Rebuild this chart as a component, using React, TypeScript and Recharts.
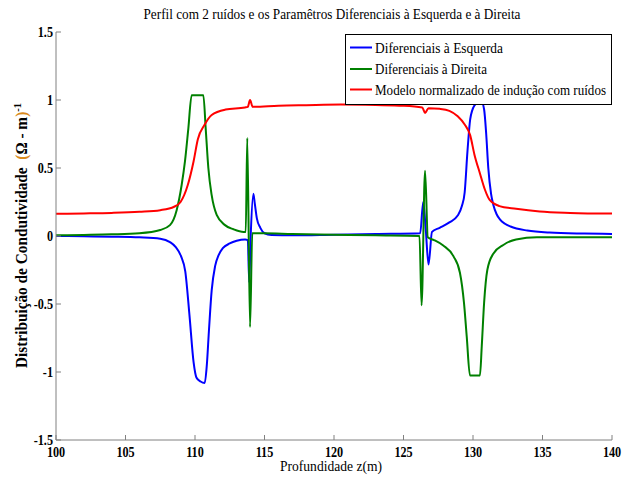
import React from 'react'
import { LineChart, Line, XAxis, YAxis, Legend } from 'recharts'

// depth (m) and values
const blueX = [100, 102, 104, 106, 107.5, 108.2, 108.6, 109.0, 109.3, 109.6, 109.9, 110.1, 110.4, 110.7, 110.85, 111.0, 111.2, 111.45, 111.7, 112.0, 112.5, 113.0, 113.6, 113.8, 113.9, 114.0, 114.2, 114.3, 114.45, 114.7, 115.0, 115.5, 117, 120, 123, 126.2, 126.42, 126.6, 126.8, 127.05, 127.6, 128.3, 128.9, 129.2, 129.4, 129.6, 129.8, 130.1, 130.4, 130.6, 130.8, 130.95, 131.1, 131.3, 131.46, 131.7, 131.95, 132.3, 132.7, 133.9, 135.5, 138, 140]
const blueY = [0, -0.002, -0.005, -0.01, -0.02, -0.045, -0.08, -0.15, -0.26, -0.58, -0.93, -1.04, -1.07, -1.08, -0.95, -0.7, -0.4, -0.22, -0.14, -0.09, -0.055, -0.035, -0.025, -0.03, -0.34, -0.02, 0.31, 0.24, 0.13, 0.06, 0.02, 0.008, 0.005, 0.01, 0.015, 0.02, 0.25, 0.05, -0.21, 0.03, 0.06, 0.1, 0.15, 0.22, 0.32, 0.62, 0.86, 0.96, 0.985, 0.99, 0.93, 0.75, 0.5, 0.31, 0.23, 0.16, 0.12, 0.09, 0.07, 0.04, 0.025, 0.018, 0.015]

const greenX = [100, 102, 104, 106, 107.5, 108.2, 108.68, 109.04, 109.28, 109.52, 109.76, 110.6, 110.77, 110.96, 111.2, 111.56, 112.16, 112.76, 113.5, 113.65, 113.76, 113.96, 114.12, 115, 117, 120, 123, 126.15, 126.3, 126.55, 126.75, 127.2, 127.86, 128.6, 129.06, 129.35, 129.55, 129.78, 130.5, 130.63, 130.8, 131.03, 131.46, 132.18, 133.1, 134.6, 137, 140]
const greenY = [0.005, 0.008, 0.012, 0.02, 0.044, 0.08, 0.19, 0.375, 0.55, 0.79, 1.035, 1.035, 0.79, 0.5, 0.3, 0.155, 0.08, 0.05, 0.03, 0.03, 0.72, -0.67, 0.02, 0.02, 0.015, 0.01, 0.005, 0, -0.51, 0.48, -0.01, -0.03, -0.07, -0.15, -0.27, -0.49, -0.74, -1.025, -1.025, -0.81, -0.49, -0.25, -0.13, -0.066, -0.025, -0.01, -0.01, -0.01]

const redX = [100, 102, 104, 106, 107.5, 108.5, 108.96, 109.48, 109.9, 110.2, 110.7, 111.2, 112.2, 113.6, 113.8, 113.96, 114.15, 116, 118, 120.5, 123, 125, 126.35, 126.55, 126.8, 127.6, 128.3, 128.9, 129.4, 129.8, 130.1, 130.5, 130.86, 131.2, 131.9, 133.1, 134.8, 137, 140]
const redY = [0.163, 0.166, 0.17, 0.178, 0.19, 0.215, 0.25, 0.375, 0.55, 0.71, 0.82, 0.89, 0.93, 0.945, 0.95, 1.0, 0.95, 0.958, 0.962, 0.966, 0.963, 0.958, 0.945, 0.905, 0.94, 0.935, 0.92, 0.88, 0.82, 0.74, 0.6, 0.46, 0.34, 0.265, 0.22, 0.2, 0.18, 0.17, 0.165]

const xTicks = [100, 105, 110, 115, 120, 125, 130, 135, 140]
const yTicks = [-1.5, -1, -0.5, 0, 0.5, 1, 1.5]

const seriesNames = ['Diferenciais à Esquerda', 'Diferenciais à Direita', 'Modelo normalizado de indução com ruídos']

const blue = blueX.map((x, i) => ({ x, y: blueY[i] }))
const green = greenX.map((x, i) => ({ x, y: greenY[i] }))
const red = redX.map((x, i) => ({ x, y: redY[i] }))

const FONT = '"Liberation Serif", "Times New Roman", serif'
const FRAME = '#808080'

const XTick = (props: any) => (
  <g transform={`translate(${props.x},${props.y + 17}) scale(0.87,1)`}>
    <text x={0} y={0} textAnchor="middle" fontFamily={FONT} fontSize={14} fontWeight="bold" fill="#000">
      {props.payload.value}
    </text>
  </g>
)

const YTick = (props: any) => (
  <g transform={`translate(${props.x - 3},${props.y + 5}) scale(0.87,1)`}>
    <text x={0} y={0} textAnchor="end" fontFamily={FONT} fontSize={14} fontWeight="bold" fill="#000">
      {props.payload.value}
    </text>
  </g>
)

const NoTick = () => <g />

const rowY = [13.5, 35, 55.5]
const textLen = [128, 112, 231]

const LegendBox = (props: any) => {
  const items = [...(props.payload || [])].sort(
    (a: any, b: any) => seriesNames.indexOf(a.value) - seriesNames.indexOf(b.value))
  return (
    <svg width={267} height={71} style={{ display: 'block' }}>
      <rect x={0.5} y={0.5} width={266} height={70} fill="#fff" stroke="#000" />
      {items.map((it: any, i: number) => (
        <g key={i}>
          <line x1={5} x2={27} y1={rowY[i]} y2={rowY[i]} stroke={it.color} strokeWidth={2} />
          <text x={30} y={rowY[i] + 5} fontFamily={FONT} fontSize={15} fill="#000"
            textLength={textLen[i]} lengthAdjust="spacingAndGlyphs">
            {it.value}
          </text>
        </g>
      ))}
    </svg>
  )
}

export default function App() {
  return (
    <div style={{ position: 'absolute', left: 0, top: 0, width: 632, height: 479, background: '#fff' }}>
      <LineChart width={632} height={479} margin={{ top: 32, right: 20, bottom: 9, left: 10 }}>
        <XAxis type="number" dataKey="x" domain={[100, 140]} ticks={xTicks} interval={0}
          allowDataOverflow height={30} stroke={FRAME} tickSize={-5} tickMargin={5} tick={XTick} />
        <XAxis xAxisId="top" orientation="top" type="number" dataKey="x" domain={[100, 140]}
          ticks={xTicks} interval={0} allowDataOverflow height={0} stroke={FRAME} tickSize={-5} tick={NoTick} />
        <YAxis type="number" domain={[-1.5, 1.5]} ticks={yTicks} interval={0} allowDataOverflow
          width={46} stroke={FRAME} tickSize={-5} tickMargin={5} tick={YTick} />
        <YAxis yAxisId="right" orientation="right" type="number" domain={[-1.5, 1.5]} ticks={yTicks}
          interval={0} allowDataOverflow width={0} stroke={FRAME} tickSize={-5} tick={NoTick} />
        <Legend layout="vertical" align="center" verticalAlign="middle" content={LegendBox}
          wrapperStyle={{ position: 'absolute', left: 345, top: 34, width: 267, height: 71 }} />
        <Line data={blue} dataKey="y" name={seriesNames[0]} type="monotone" stroke="#0000ff"
          strokeWidth={2} dot={false} isAnimationActive={false} />
        <Line data={green} dataKey="y" name={seriesNames[1]} type="monotone" stroke="#008000"
          strokeWidth={2} dot={false} isAnimationActive={false} />
        <Line data={red} dataKey="y" name={seriesNames[2]} type="monotone" stroke="#ff0000"
          strokeWidth={2} dot={false} isAnimationActive={false} />
      </LineChart>
      <svg width={632} height={479} style={{ position: 'absolute', left: 0, top: 0, pointerEvents: 'none' }}>
        <text x={332} y={19} textAnchor="middle" fontFamily={FONT} fontSize={14} fill="#000"
          textLength={377} lengthAdjust="spacingAndGlyphs">
          Perfil com 2 ruídos e os Paramêtros Diferenciais à Esquerda e à Direita
        </text>
        <text x={331} y={471} textAnchor="middle" fontFamily={FONT} fontSize={14} fill="#000"
          textLength={102} lengthAdjust="spacingAndGlyphs">
          Profundidade z(m)
        </text>
        <text transform="translate(27,235.5) rotate(-90)" textAnchor="middle" fontFamily={FONT}
          fontSize={16} fontWeight="bold" fill="#000" textLength={265} lengthAdjust="spacingAndGlyphs">
          Distribuição de Condutividade{'\u00a0\u00a0'}
          <tspan fill="#d98a1c">(</tspan>Ω - m<tspan fill="#d98a1c">)</tspan>
          <tspan dy={-6} fontSize={11}>-1</tspan>
        </text>
      </svg>
    </div>
  )
}
